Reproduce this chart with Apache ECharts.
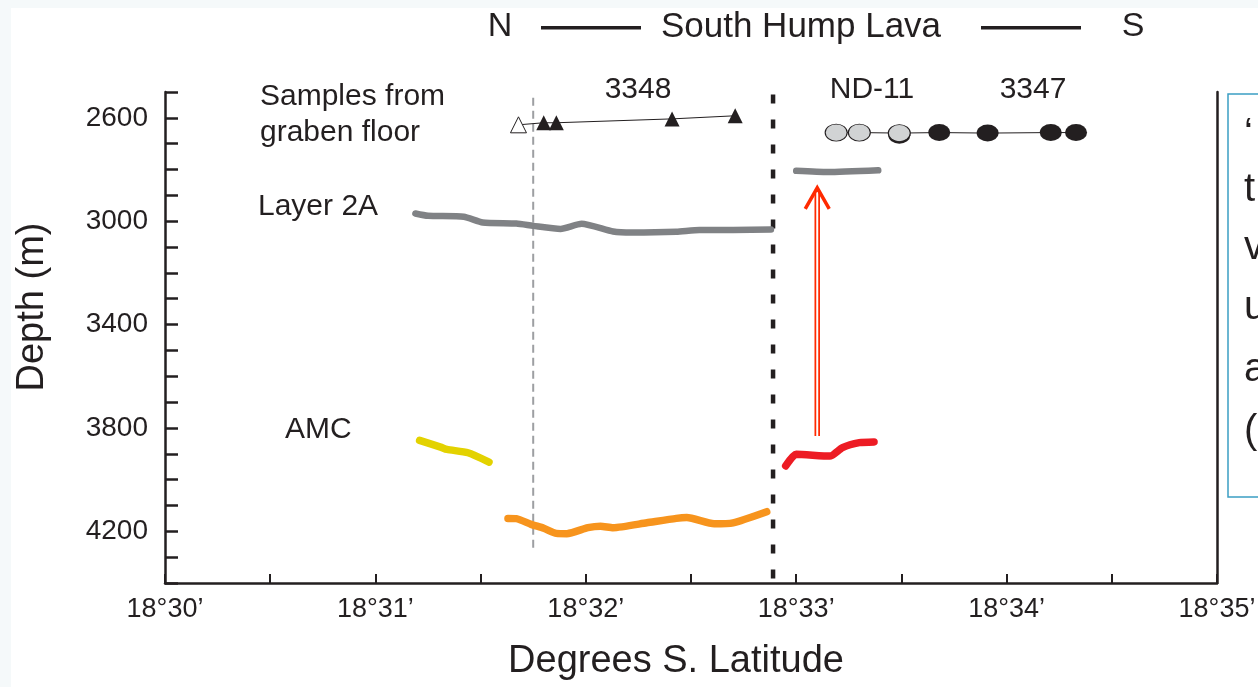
<!DOCTYPE html>
<html>
<head>
<meta charset="utf-8">
<script src="https://cdn.jsdelivr.net/npm/echarts@6/dist/echarts.min.js"></script>
<style>
html, body { margin: 0; padding: 0; background: #fff; }
#depth-profile { width: 1258px; height: 687px; }
</style>
</head>
<body>
<div id="depth-profile"></div>
<script>
// latitude in minutes past 18 deg S, depth in metres
var xTicks = [30, 31, 32, 33, 34, 35]
var yTicks = [2600, 3000, 3400, 3800, 4200]

var layer2a = [[31.19, 2970], [31.25, 2979], [31.42, 2983], [31.51, 3005], [31.67, 3009], [31.75, 3018], [31.88, 3030], [31.98, 3010], [32.13, 3040], [32.22, 3044], [32.43, 3041], [32.54, 3034], [32.70, 3034], [32.88, 3032]]
var layer2aSouth = [[33.00, 2805], [33.15, 2810], [33.39, 2803]]
var amcNorth = [[31.21, 3848], [31.31, 3874], [31.34, 3883], [31.44, 3896], [31.54, 3932]]
var amcFloor = [[31.63, 4150], [31.67, 4151], [31.74, 4173], [31.80, 4188], [31.86, 4208], [31.91, 4209], [32.01, 4186], [32.07, 4180], [32.13, 4186], [32.29, 4167], [32.43, 4150], [32.48, 4147], [32.61, 4171], [32.70, 4167], [32.86, 4124]]
var amcSouth = [[32.95, 3947], [33.00, 3902], [33.16, 3909], [33.22, 3876], [33.30, 3857], [33.37, 3854]]

var samples3348Open = [[31.68, 2627]]
var samples3348 = [[31.80, 2619], [31.86, 2619], [32.41, 2604], [32.71, 2592]]
var samplesNd11 = [[33.19, 2657], [33.30, 2657], [33.49, 2659]]
var samplesNd11Behind = [[33.49, 2667]]
var samples3347 = [[33.68, 2657], [33.91, 2659], [34.21, 2657], [34.33, 2657]]

var grabenEdge = [[32.89, 2510, 4430]]
var guideLine = [[31.75, 2522, 4270]]
var upliftArrow = [[33.10, 3831, 2871]]

var ink = "#231f20"
var font = "'Liberation Sans', Arial, sans-serif"

var chartDom = document.getElementById("depth-profile")
var myChart = echarts.init(chartDom)

function vline(color, width, dash) {
    return function (params, api) {
        var p0 = api.coord([api.value(0), api.value(1)])
        var p1 = api.coord([api.value(0), api.value(2)])
        return {
            type: "line",
            shape: { x1: p0[0], y1: p0[1], x2: p1[0], y2: p1[1] },
            style: { stroke: color, lineWidth: width, lineDash: dash }
        }
    }
}

function arrow(params, api) {
    var p0 = api.coord([api.value(0), api.value(1)])
    var p1 = api.coord([api.value(0), api.value(2)])
    var red = "#ff2a00"
    return {
        type: "group",
        children: [
            { type: "line", shape: { x1: p0[0], y1: p0[1], x2: p1[0], y2: p1[1] + 2 }, style: { stroke: red, lineWidth: 5.5 } },
            { type: "line", shape: { x1: p0[0], y1: p0[1] + 1, x2: p1[0], y2: p1[1] + 4 }, style: { stroke: "#fff", lineWidth: 2 } },
            { type: "polyline", shape: { points: [[p1[0] - 12, p1[1] + 21], [p1[0], p1[1]], [p1[0] + 12, p1[1] + 21]] }, style: { stroke: red, lineWidth: 3.5, fill: null } }
        ]
    }
}

function trace(data, color, width) {
    return {
        type: "line",
        data: data,
        showSymbol: false,
        smooth: 0.2,
        lineStyle: { color: color, width: width, cap: "round", join: "round" },
        z: 3
    }
}

function txt(text, x, y, size, align) {
    return {
        type: "text",
        x: x,
        y: y,
        style: { text: text, font: size + "px " + font, fill: ink, textAlign: align || "left", textVerticalAlign: "middle" }
    }
}

var option = {
    backgroundColor: "#f5f9fa",
    animation: false,
    grid: { left: 165, right: 41, top: 92, bottom: 104, containLabel: false, outerBoundsMode: "none" },
    xAxis: {
        type: "value",
        min: 30,
        max: 35,
        interval: 0.5,
        axisLine: { lineStyle: { color: ink, width: 2.5 } },
        axisTick: { inside: true, length: 9, lineStyle: { color: ink, width: 2 } },
        axisLabel: {
            color: ink, fontSize: 27, fontFamily: font, margin: 13,
            formatter: function (v) { return xTicks.indexOf(v) >= 0 ? "18°" + v + "’" : "" }
        },
        splitLine: { show: false }
    },
    yAxis: [
        {
            type: "value",
            inverse: true,
            min: 2500,
            max: 4400,
            interval: 100,
            axisLine: { show: true, lineStyle: { color: ink, width: 2.5 } },
            axisTick: { inside: true, length: 13, lineStyle: { color: ink, width: 2.5 } },
            axisLabel: {
                color: ink, fontSize: 28, fontFamily: font, margin: 17,
                formatter: function (v) { return yTicks.indexOf(v) >= 0 ? String(v) : "" }
            },
            splitLine: { show: false }
        },
        {
            type: "value",
            position: "right",
            inverse: true,
            min: 2500,
            max: 4400,
            axisLine: { show: true, lineStyle: { color: ink, width: 2.5 } },
            axisTick: { show: false },
            axisLabel: { show: false },
            splitLine: { show: false }
        }
    ],
    graphic: [
        { type: "rect", z: -100, silent: true, shape: { x: 11, y: 8, width: 1247, height: 679 }, style: { fill: "#fff" } },
        txt("N", 500, 27, 34, "center"),
        { type: "rect", shape: { x: 541, y: 26, width: 100, height: 3.5 }, style: { fill: ink } },
        txt("South Hump Lava", 801, 27, 35, "center"),
        { type: "rect", shape: { x: 981, y: 26, width: 100, height: 3.5 }, style: { fill: ink } },
        txt("S", 1133, 27, 34, "center"),
        txt("Samples from", 260, 97, 30),
        txt("graben floor", 260, 133, 30),
        txt("3348", 638, 90, 30, "center"),
        txt("ND-11", 872, 90, 30, "center"),
        txt("3347", 1033, 90, 30, "center"),
        txt("Layer 2A", 258, 207, 30),
        txt("AMC", 285, 430, 30),
        txt("Degrees S. Latitude", 676, 662, 38, "center"),
        {
            type: "text",
            x: 33,
            y: 307,
            rotation: Math.PI / 2,
            style: { text: "Depth (m)", font: "38px " + font, fill: ink, textAlign: "center", textVerticalAlign: "middle" }
        },
        { type: "rect", shape: { x: 1228, y: 94, width: 60, height: 403 }, style: { fill: "#fff", stroke: "#3b9ec4", lineWidth: 1.5 } },
        txt("‘", 1244, 135, 40),
        txt("t", 1244, 190, 40),
        txt("v", 1244, 248, 40),
        txt("u", 1244, 308, 40),
        txt("a", 1244, 370, 40),
        txt("(", 1244, 432, 40)
    ],
    series: [
        { type: "custom", data: guideLine, renderItem: vline("#9d9fa2", 2, [8, 5]), z: 1 },
        { type: "custom", data: grabenEdge, renderItem: vline(ink, 4.5, [9, 16]), z: 2 },
        trace(layer2a, "#808285", 6.5),
        trace(layer2aSouth, "#808285", 6.5),
        trace(amcNorth, "#e3d200", 7.5),
        trace(amcFloor, "#f7941d", 7.5),
        trace(amcSouth, "#ed1c24", 7.5),
        { type: "custom", data: upliftArrow, renderItem: arrow, z: 4 },
        {
            type: "line",
            data: samples3348Open.concat(samples3348),
            showSymbol: false,
            lineStyle: { color: ink, width: 1 },
            z: 5
        },
        {
            type: "scatter",
            data: samples3348Open,
            symbol: "triangle",
            symbolSize: 16,
            itemStyle: { color: "#fff", borderColor: ink, borderWidth: 1, opacity: 1 },
            z: 6
        },
        {
            type: "scatter",
            data: samples3348,
            symbol: "triangle",
            symbolSize: 15,
            itemStyle: { color: ink, opacity: 1 },
            z: 6
        },
        {
            type: "line",
            data: samplesNd11.concat(samples3347),
            showSymbol: false,
            lineStyle: { color: ink, width: 1 },
            z: 5
        },
        {
            type: "scatter",
            data: samplesNd11Behind,
            symbolSize: [22, 17],
            itemStyle: { color: ink, opacity: 1 },
            z: 6
        },
        {
            type: "scatter",
            data: samplesNd11,
            symbolSize: [22, 17],
            itemStyle: { color: "#d1d3d4", borderColor: ink, borderWidth: 1, opacity: 1 },
            z: 7
        },
        {
            type: "scatter",
            data: samples3347,
            symbolSize: [22, 17],
            itemStyle: { color: ink, opacity: 1 },
            z: 7
        }
    ]
}

myChart.setOption(option)
</script>
</body>
</html>
